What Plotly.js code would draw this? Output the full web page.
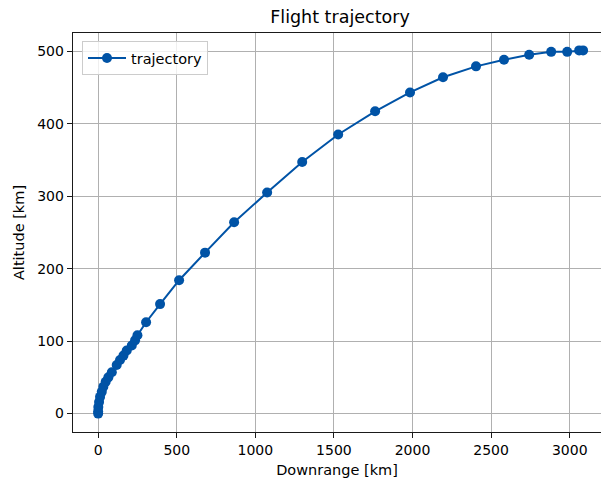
<!DOCTYPE html>
<html>
<head>
<meta charset="utf-8">
<script src="https://cdn.plot.ly/plotly-3.0.1.min.js"></script>
<style>html,body{margin:0;padding:0;overflow:hidden;background:#fff;}</style>
</head>
<body>
<div id="chart" style="width:601px;height:481px;"></div>
<script>
var downrange = [0, 0, 1, 6, 12, 23, 33, 48, 65, 87, 118, 139, 161, 182, 214, 235, 250, 305, 394, 515, 680, 865, 1075, 1298, 1527, 1762, 1984, 2194, 2404, 2582, 2742, 2882, 2984, 3060, 3085];
var altitude = [0, 3, 9, 16, 23, 30, 37, 44, 50, 57, 67, 74, 80, 87, 94, 101, 108, 126, 151, 184, 222, 264, 305, 347, 385, 417, 443, 464, 479, 488, 495, 499, 499, 501, 501];
var seriesName = "trajectory";
var chartTitle = "Flight trajectory";
var xLabel = "Downrange [km]";
var yLabel = "Altitude [km]";

var font = "DejaVu Sans, sans-serif";
var trace = {
  x: downrange, y: altitude, name: seriesName,
  type: "scatter", mode: "lines+markers",
  line: {color: "#0053a6", width: 2},
  marker: {color: "#0053a6", size: 10}
};
var axisCommon = {
  showgrid: true, gridcolor: "#b0b0b0", gridwidth: 1,
  zeroline: false, showline: true, linecolor: "#1a1a1a", linewidth: 1.3,
  ticks: "outside", ticklen: 5, tickwidth: 1, tickcolor: "#1a1a1a",
  tickfont: {family: font, size: 14, color: "#000"}
};
var layout = {
  width: 601, height: 481,
  margin: {l: 73, r: 0, t: 33, b: 49, pad: 0},
  paper_bgcolor: "#fff", plot_bgcolor: "#fff",
  font: {family: font, color: "#000"},
  title: {text: chartTitle, font: {family: font, size: 17.5, color: "#000"},
          xref: "container", x: 340/601, xanchor: "center", yref: "container", y: 1 - 17/481, yanchor: "middle"},
  xaxis: Object.assign({}, axisCommon, {
    range: [-160, 3199], dtick: 500, tick0: 0, mirror: true,
    title: {text: xLabel, font: {family: font, size: 14.5, color: "#000"}, standoff: 7}
  }),
  yaxis: Object.assign({}, axisCommon, {
    range: [-25.4, 525], dtick: 100, tick0: 0,
    title: {text: yLabel, font: {family: font, size: 14.5, color: "#000"}, standoff: 9}
  }),
  showlegend: true,
  legend: {x: 9/528, y: 1 - 8/399, xanchor: "left", yanchor: "top", itemwidth: 38,
           bgcolor: "rgba(255,255,255,0.8)", bordercolor: "#cccccc", borderwidth: 1,
           font: {family: font, size: 14.5, color: "#000"}}
};
Plotly.newPlot("chart", [trace], layout, {displayModeBar: false, staticPlot: true});
</script>
</body>
</html>
